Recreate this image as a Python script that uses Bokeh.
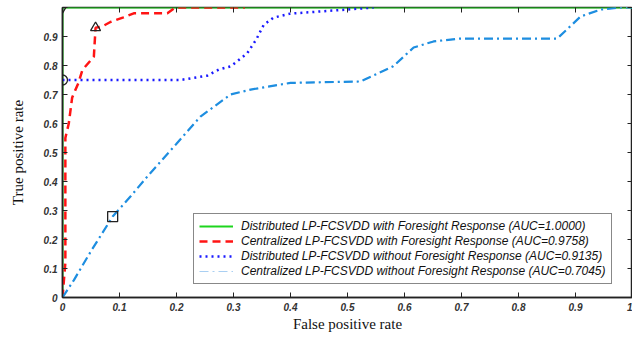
from bokeh.plotting import figure
from bokeh.models import Range1d, FixedTicker, LinearAxis, Legend, LegendItem
from bokeh.embed import file_html
from bokeh.resources import INLINE

# ---- data ----
green_fpr = [0.0, 0.0, 1.0]
green_tpr = [0.0, 1.0, 1.0]

red_fpr = [0.0, 0.005, 0.005, 0.011, 0.017, 0.028, 0.035, 0.055, 0.058, 0.07, 0.084, 0.107, 0.125, 0.184, 0.198, 0.32]
red_tpr = [0.0, 0.12, 0.55, 0.60, 0.69, 0.74, 0.785, 0.83, 0.93, 0.935, 0.95, 0.966, 0.98, 0.98, 1.0, 1.0]

blue_fpr = [0.0, 0.207, 0.254, 0.274, 0.295, 0.324, 0.34, 0.353, 0.37, 0.40, 0.50, 0.546]
blue_tpr = [0.75, 0.75, 0.765, 0.786, 0.797, 0.842, 0.89, 0.94, 0.965, 0.979, 0.993, 1.0]

cyan_fpr = [0.0, 0.02, 0.05, 0.088, 0.12, 0.15, 0.2, 0.242, 0.295, 0.33, 0.40, 0.523, 0.58, 0.616, 0.651, 0.698, 0.868, 0.909, 0.944, 0.98, 1.0]
cyan_tpr = [0.0, 0.06, 0.16, 0.279, 0.35, 0.42, 0.53, 0.624, 0.70, 0.717, 0.74, 0.745, 0.797, 0.862, 0.883, 0.893, 0.893, 0.969, 0.993, 1.0, 1.0]

mark_down_x, mark_down_y = [0.0], [1.0]
mark_up_x, mark_up_y = [0.058], [0.93]
mark_circ_x, mark_circ_y = [0.0], [0.75]
mark_sq_x, mark_sq_y = [0.088], [0.279]

legend_labels = [
    "Distributed LP-FCSVDD with Foresight Response (AUC=1.0000)",
    "Centralized LP-FCSVDD with Foresight Response (AUC=0.9758)",
    "Distributed LP-FCSVDD without Foresight Response (AUC=0.9135)",
    "Centralized LP-FCSVDD without Foresight Response (AUC=0.7045)",
]

x_ticks = [0, 0.1, 0.2, 0.3, 0.4, 0.5, 0.6, 0.7, 0.8, 0.9, 1.0]
x_tick_labels = ["0", "0.1", "0.2", "0.3", "0.4", "0.5", "0.6", "0.7", "0.8", "0.9", "1"]
y_ticks = [0, 0.1, 0.2, 0.3, 0.4, 0.5, 0.6, 0.7, 0.8, 0.9, 1.0]
y_tick_labels = ["0", "0.1", "0.2", "0.3", "0.4", "0.5", "0.6", "0.7", "0.8", "0.9", ""]

# ---- figure ----
p = figure(width=632, height=334, output_backend="svg", toolbar_location=None,
           x_range=Range1d(0, 1), y_range=Range1d(0, 1),
           min_border_left=62, min_border_right=0, min_border_top=7, min_border_bottom=36)
p.xgrid.visible = False
p.ygrid.visible = False
p.outline_line_color = "#222222"
p.outline_line_width = 1.5
p.background_fill_color = "white"
p.border_fill_color = "white"

for ax, ticks, labels in [(p.xaxis[0], x_ticks, x_tick_labels), (p.yaxis[0], y_ticks, y_tick_labels)]:
    ax.ticker = FixedTicker(ticks=ticks)
    ax.major_label_overrides = {t: l for t, l in zip(ticks, labels)}
    ax.major_tick_in = 5
    ax.major_tick_out = 0
    ax.minor_tick_line_color = None
    ax.axis_line_color = "#222222"
    ax.axis_line_width = 1.5
    ax.major_tick_line_color = "#222222"
    ax.major_label_text_font = "Liberation Sans"
    ax.major_label_text_font_style = "bold italic"
    ax.major_label_text_font_size = "10px"
    ax.major_label_text_color = "#333333"
    ax.axis_label_text_font = "Liberation Serif"
    ax.axis_label_text_font_style = "normal"
    ax.axis_label_text_font_size = "15px"
    ax.axis_label_text_color = "#111111"

p.xaxis[0].major_label_standoff = 5
p.yaxis[0].major_label_standoff = 5
p.xaxis.axis_label = "False positive rate"
p.yaxis.axis_label = "True positive rate"
p.xaxis[0].axis_label_standoff = 2
p.yaxis[0].axis_label_standoff = 15

# inward ticks on right and top (no labels)
ax_r = LinearAxis(ticker=FixedTicker(ticks=y_ticks),
                  major_label_overrides={t: "" for t in y_ticks},
                  major_tick_in=5, major_tick_out=0, minor_tick_line_color=None,
                  axis_line_color=None, major_tick_line_color="#222222", major_label_standoff=0)
ax_t = LinearAxis(ticker=FixedTicker(ticks=x_ticks),
                  major_label_overrides={t: "" for t in x_ticks},
                  major_tick_in=5, major_tick_out=0, minor_tick_line_color=None,
                  axis_line_color=None, major_tick_line_color="#222222", major_label_standoff=0)
p.add_layout(ax_r, "right")
p.add_layout(ax_t, "above")

# ---- curves ----
r_green = p.line(green_fpr, green_tpr, line_color="#1ed51e", line_width=2)
r_red = p.line(red_fpr, red_tpr, line_color="#ff1414", line_width=2.5, line_dash="8 5")
r_blue = p.line(blue_fpr, blue_tpr, line_color="#1a1aff", line_width=2.5, line_dash="2 4")
r_cyan_leg = p.line(cyan_fpr, cyan_tpr, line_color="#a9cff2", line_width=1.2, line_dash="9 4 2 4")
r_cyan = p.line(cyan_fpr, cyan_tpr, line_color="#1e8ee0", line_width=2.2, line_dash="9 4 2 4")

mk = dict(fill_color=None, line_color="#222222", line_width=1.3, size=10)
p.scatter(mark_down_x, mark_down_y, marker="inverted_triangle", **mk)
p.scatter(mark_up_x, mark_up_y, marker="triangle", **mk)
p.scatter(mark_circ_x, mark_circ_y, marker="circle", **mk)
p.scatter(mark_sq_x, mark_sq_y, marker="square", **mk)

legend = Legend(items=[
    LegendItem(label=legend_labels[0], renderers=[r_green]),
    LegendItem(label=legend_labels[1], renderers=[r_red]),
    LegendItem(label=legend_labels[2], renderers=[r_blue]),
    LegendItem(label=legend_labels[3], renderers=[r_cyan_leg]),
], location=(131, 13))
legend.label_text_font = "Liberation Sans"
legend.label_text_font_style = "italic"
legend.label_text_font_size = "12px"
legend.label_text_color = "#111111"
legend.label_height = 12
legend.glyph_height = 12
legend.glyph_width = 34
legend.spacing = 1
legend.padding = 5
legend.margin = 0
legend.label_standoff = 8
legend.border_line_color = "#111111"
legend.border_line_width = 1.2
legend.background_fill_alpha = 1.0
p.add_layout(legend, "center")

open("out.html", "w").write(file_html(p, INLINE))
